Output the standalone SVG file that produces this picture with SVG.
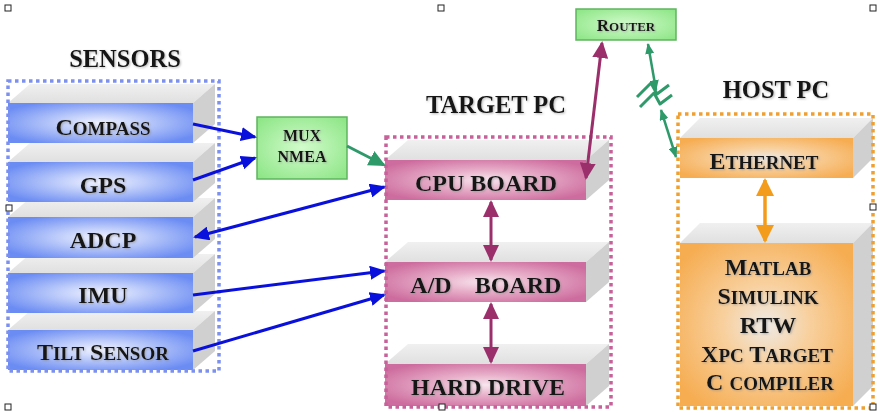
<svg xmlns="http://www.w3.org/2000/svg" width="878" height="413" viewBox="0 0 878 413">
<defs>
<style>
text{font-family:"Liberation Serif","Times New Roman",serif;font-weight:bold;fill:#141414;text-anchor:middle;filter:url(#sh)}
.title{font-size:24.5px}
.lbl{font-size:24px}
.sm{font-size:19px}
.top{fill:url(#gTop)}
.side{fill:#d0d0d0}
.sens{fill:url(#gBlue)}
.tgt{fill:url(#gPink)}
.host{fill:url(#gOrange)}
.grp{fill:none;stroke-width:3.5;stroke-dasharray:3.5 3.5}
.green{fill:url(#gGreen);stroke:#5fb55f;stroke-width:1.5}
.blue{stroke:#0a10dc;stroke-width:3;fill:none}
.purple{stroke:#9a2f6b;stroke-width:3;fill:none}
.orange{stroke:#f39c1c;stroke-width:3.5;fill:none}
.gline{stroke:#2e9a6a;stroke-width:3;fill:none}
.gthin{stroke:#2e9a6a;stroke-width:2.5;fill:none}
.zig{stroke:#2e9a6a;stroke-width:3;fill:none;stroke-linejoin:round}
.hdl{fill:#fff;stroke:#222;stroke-width:1}
</style>
<filter id="sh" x="-10%" y="-20%" width="130%" height="150%">
<feDropShadow dx="1" dy="1" stdDeviation="0.8" flood-color="#888" flood-opacity="0.6"/>
</filter>
<radialGradient id="gBlue" cx="0.5" cy="0.5" r="0.6">
<stop offset="0" stop-color="#f2f4ff"/>
<stop offset="0.4" stop-color="#bccbfa"/>
<stop offset="1" stop-color="#6b8cf3"/>
</radialGradient>
<radialGradient id="gPink" cx="0.5" cy="0.5" r="0.6">
<stop offset="0" stop-color="#f8e6ee"/>
<stop offset="0.4" stop-color="#e8b0ca"/>
<stop offset="1" stop-color="#cd6c9e"/>
</radialGradient>
<radialGradient id="gOrange" cx="0.5" cy="0.5" r="0.62">
<stop offset="0" stop-color="#eeeae6"/>
<stop offset="0.4" stop-color="#f8d09e"/>
<stop offset="1" stop-color="#f6ad52"/>
</radialGradient>
<radialGradient id="gGreen" cx="0.5" cy="0.5" r="0.65">
<stop offset="0" stop-color="#d2fbcc"/>
<stop offset="1" stop-color="#8fe688"/>
</radialGradient>
<linearGradient id="gTop" x1="0" y1="0" x2="0" y2="1">
<stop offset="0" stop-color="#f0f0f0"/>
<stop offset="1" stop-color="#e0e0e0"/>
</linearGradient>
<marker id="aBlue" viewBox="0 0 16 14" markerWidth="16" markerHeight="14" refX="14" refY="7" orient="auto-start-reverse" markerUnits="userSpaceOnUse"><path d="M0,0 L16,7 L0,14 z" fill="#0a10dc"/></marker>
<marker id="aPurple" viewBox="0 0 17 16" markerWidth="17" markerHeight="16" refX="15" refY="8" orient="auto-start-reverse" markerUnits="userSpaceOnUse"><path d="M0,0 L17,8 L0,16 z" fill="#9a2f6b"/></marker>
<marker id="aOrange" viewBox="0 0 18 18" markerWidth="18" markerHeight="18" refX="16" refY="9" orient="auto-start-reverse" markerUnits="userSpaceOnUse"><path d="M0,0 L18,9 L0,18 z" fill="#f39c1c"/></marker>
<marker id="aGreen" viewBox="0 0 17 16" markerWidth="17" markerHeight="16" refX="15" refY="8" orient="auto-start-reverse" markerUnits="userSpaceOnUse"><path d="M0,0 L17,8 L0,16 z" fill="#2e9a6a"/></marker>
<marker id="aGreenS" viewBox="0 0 11 9" markerWidth="11" markerHeight="9" refX="10" refY="4.5" orient="auto-start-reverse" markerUnits="userSpaceOnUse"><path d="M0,0 L11,4.5 L0,9 z" fill="#2e9a6a"/></marker>
</defs>

<rect width="878" height="413" fill="#fff"/>

<!-- Sensors group -->
<g id="sensors">
<text class="title" x="125" y="67">SENSORS</text>
<g id="tilt">
<polygon class="top" points="8,330 30,311 215,311 193,330"/>
<polygon class="side" points="193,330 215,311 215,351 193,370"/>
<rect class="sens" x="8" y="330" width="185" height="40"/>
<text class="lbl" x="103" y="360">T<tspan class="sm">ILT</tspan> S<tspan class="sm">ENSOR</tspan></text>
</g>
<g id="imu">
<polygon class="top" points="8,273 30,254 215,254 193,273"/>
<polygon class="side" points="193,273 215,254 215,294 193,313"/>
<rect class="sens" x="8" y="273" width="185" height="40"/>
<text class="lbl" x="103" y="303">IMU</text>
</g>
<g id="adcp">
<polygon class="top" points="8,217 30,198 215,198 193,217"/>
<polygon class="side" points="193,217 215,198 215,239 193,258"/>
<rect class="sens" x="8" y="217" width="185" height="41"/>
<text class="lbl" x="103" y="248">ADCP</text>
</g>
<g id="gps">
<polygon class="top" points="8,162 30,143 215,143 193,162"/>
<polygon class="side" points="193,162 215,143 215,183 193,202"/>
<rect class="sens" x="8" y="162" width="185" height="40"/>
<text class="lbl" x="103" y="193">GPS</text>
</g>
<g id="compass">
<polygon class="top" points="8,103 30,84 215,84 193,103"/>
<polygon class="side" points="193,103 215,84 215,124 193,143"/>
<rect class="sens" x="8" y="103" width="185" height="40"/>
<text class="lbl" x="103" y="135">C<tspan class="sm">OMPASS</tspan></text>
</g>
<rect class="grp" x="8" y="81" width="211" height="290" stroke="#7c90f0"/>
</g>

<!-- MUX -->
<g id="mux">
<rect class="green" x="257" y="117" width="90" height="62"/>
<text x="302" y="141" style="font-size:16px">MUX</text>
<text x="302" y="162" style="font-size:16px">NMEA</text>
</g>

<!-- Router -->
<g id="router">
<rect class="green" x="576" y="9" width="100" height="31"/>
<text x="626" y="31" style="font-size:17px">R<tspan style="font-size:13px">OUTER</tspan></text>
</g>

<!-- Target PC -->
<g id="target">
<text class="title" x="496" y="113">TARGET PC</text>
<g id="harddrive">
<polygon class="top" points="385,364 408,344 609,344 586,364"/>
<polygon class="side" points="586,364 609,344 609,386 586,406"/>
<rect class="tgt" x="385" y="364" width="201" height="42"/>
<text class="lbl" x="488" y="395">HARD DRIVE</text>
</g>
<g id="adboard">
<polygon class="top" points="385,262 408,242 609,242 586,262"/>
<polygon class="side" points="586,262 609,242 609,282 586,302"/>
<rect class="tgt" x="385" y="262" width="201" height="40"/>
<text class="lbl" y="293"><tspan x="431">A/D</tspan><tspan x="518">BOARD</tspan></text>
</g>
<g id="cpu">
<polygon class="top" points="385,160 408,140 609,140 586,160"/>
<polygon class="side" points="586,160 609,140 609,180 586,200"/>
<rect class="tgt" x="385" y="160" width="201" height="40"/>
<text class="lbl" x="486" y="191">CPU BOARD</text>
</g>
<rect class="grp" x="386" y="137" width="225" height="270" stroke="#c8609a"/>
</g>

<!-- Host PC -->
<g id="host">
<text class="title" x="776" y="98">HOST PC</text>
<g id="ethernet">
<polygon class="top" points="680,138 700,118 873,118 853,138"/>
<polygon class="side" points="853,138 873,118 873,158 853,178"/>
<rect class="host" x="680" y="138" width="173" height="40"/>
<text class="lbl" x="764" y="169">E<tspan class="sm">THERNET</tspan></text>
</g>
<g id="software">
<polygon class="top" points="680,243 700,223 873,223 853,243"/>
<polygon class="side" points="853,243 873,223 873,386 853,406"/>
<rect class="host" x="680" y="243" width="173" height="163"/>
<text class="lbl" x="768" y="275">M<tspan class="sm">ATLAB</tspan></text>
<text class="lbl" x="768" y="304">S<tspan class="sm">IMULINK</tspan></text>
<text class="lbl" x="768" y="333">RTW</text>
<text class="lbl" x="767" y="362">X<tspan class="sm">PC</tspan> T<tspan class="sm">ARGET</tspan></text>
<text class="lbl" x="770" y="390">C <tspan class="sm">COMPILER</tspan></text>
</g>
<rect class="grp" x="678" y="114" width="195" height="294" stroke="#f0a030"/>
</g>

<!-- Connectors -->
<g id="connectors">
<line class="blue" x1="193" y1="124" x2="255" y2="137" marker-end="url(#aBlue)"/>
<line class="blue" x1="193" y1="180" x2="255" y2="158" marker-end="url(#aBlue)"/>
<line class="blue" x1="195" y1="237" x2="384" y2="187" marker-start="url(#aBlue)" marker-end="url(#aBlue)"/>
<line class="blue" x1="193" y1="295" x2="384" y2="271" marker-end="url(#aBlue)"/>
<line class="blue" x1="193" y1="351" x2="384" y2="295" marker-end="url(#aBlue)"/>
<line class="gline" x1="347" y1="146" x2="384" y2="165" marker-end="url(#aGreen)"/>
<line class="purple" x1="491" y1="202" x2="491" y2="260" marker-start="url(#aPurple)" marker-end="url(#aPurple)"/>
<line class="purple" x1="491" y1="304" x2="491" y2="362" marker-start="url(#aPurple)" marker-end="url(#aPurple)"/>
<line class="purple" x1="602" y1="43" x2="586" y2="178" marker-start="url(#aPurple)" marker-end="url(#aPurple)"/>
<line class="orange" x1="765" y1="180" x2="765" y2="241" marker-start="url(#aOrange)" marker-end="url(#aOrange)"/>
<line class="gthin" x1="648" y1="44" x2="656" y2="90" marker-start="url(#aGreenS)" marker-end="url(#aGreenS)"/>
<line class="gthin" x1="661" y1="110" x2="676" y2="157" marker-start="url(#aGreenS)" marker-end="url(#aGreenS)"/>
<polyline class="zig" points="637,97 651,83 657,94 669,85"/>
<polyline class="zig" points="640,107 654,93 660,104 672,95"/>
</g>

<!-- selection handles -->
<g id="handles">
<rect class="hdl" x="5" y="5" width="6" height="6"/>
<rect class="hdl" x="438" y="5" width="6" height="6"/>
<rect class="hdl" x="870" y="5" width="6" height="6"/>
<rect class="hdl" x="6" y="205" width="6" height="6"/>
<rect class="hdl" x="870" y="204" width="6" height="6"/>
<rect class="hdl" x="5" y="404" width="6" height="6"/>
<rect class="hdl" x="439" y="404" width="6" height="6"/>
<rect class="hdl" x="870" y="404" width="6" height="6"/>
</g>
</svg>
